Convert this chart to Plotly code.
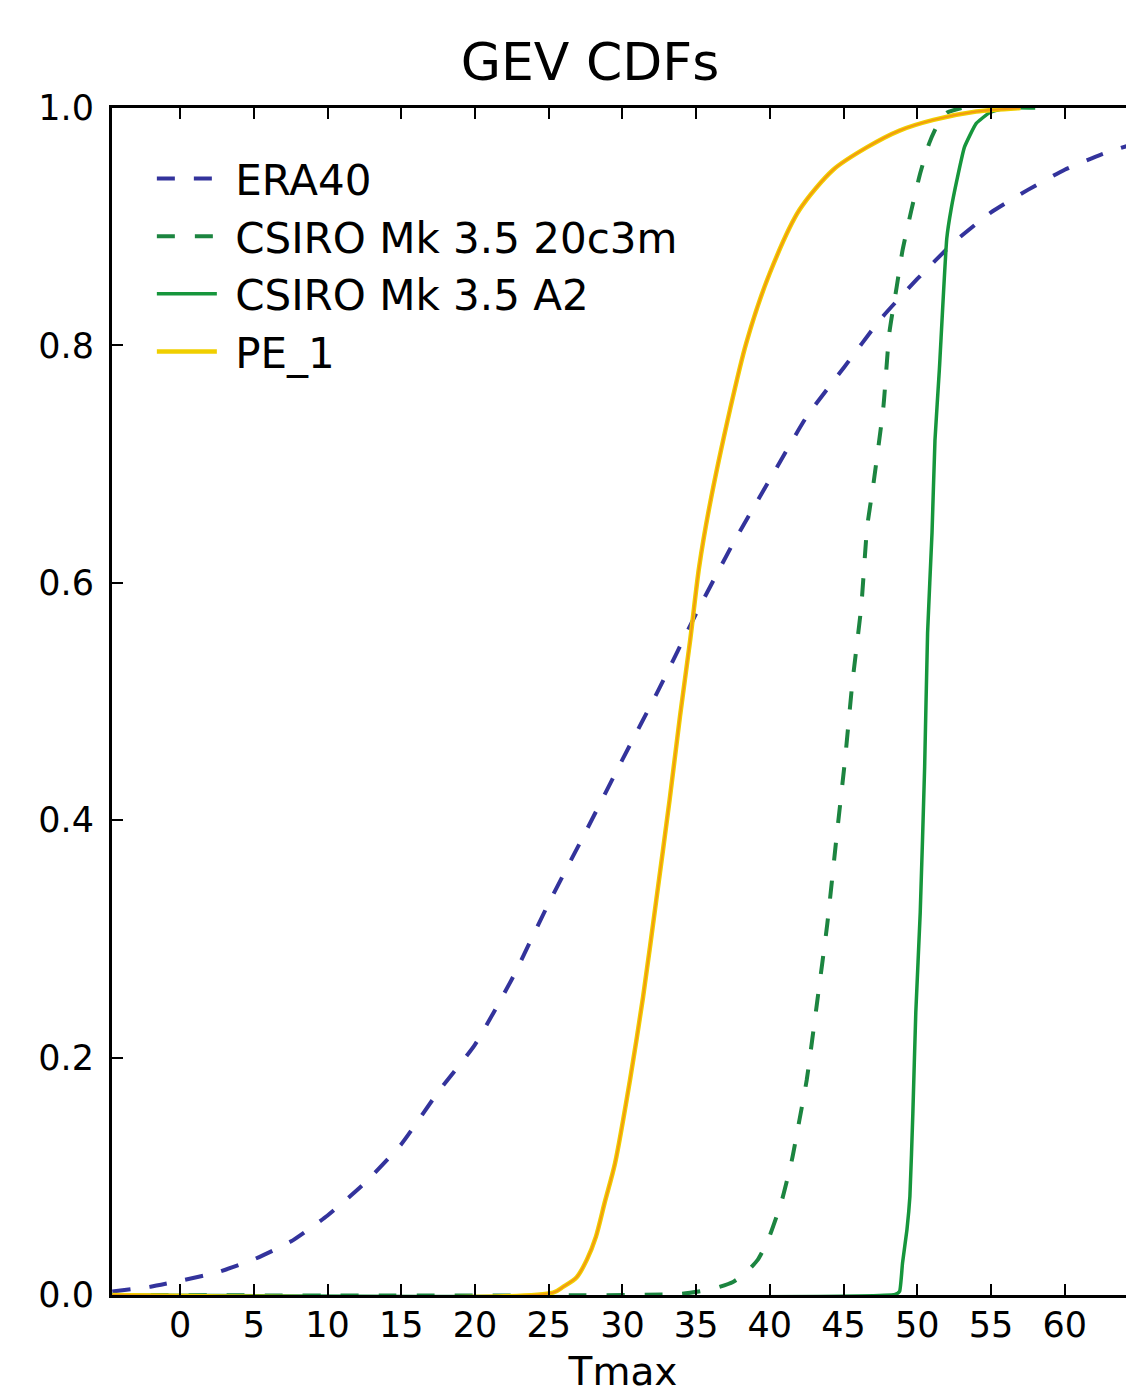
import plotly.graph_objects as go

# ---- data ----
era40_x = [-4.6, -2, 0, 2.5, 5, 7.5, 10, 12.5, 15, 17.5, 20, 22.5, 25, 27.5, 30, 32.5,
           35, 37.5, 40, 42.5, 45, 47.5, 50, 52.5, 55, 57.5, 60, 62.5, 65]
era40_y = [0.003, 0.007, 0.012, 0.019, 0.030, 0.045, 0.067, 0.094, 0.127, 0.171, 0.211,
           0.266, 0.330, 0.390, 0.451, 0.511, 0.574, 0.633, 0.687, 0.740, 0.781, 0.822,
           0.856, 0.887, 0.912, 0.931, 0.948, 0.961, 0.971]

c20_x = [-4.6, 34, 36.1, 37.5, 38.4, 39.2, 39.9, 40.8, 41.5, 42.0, 42.5, 43.2, 43.9, 44.5,
         45.1, 45.6, 46.2, 46.6, 47.0, 47.7, 48.1, 48.6, 49.0, 49.6, 50.2, 50.8, 51.3, 52.0, 53.0]
c20_y = [0.0, 0.001, 0.005, 0.011, 0.019, 0.030, 0.047, 0.079, 0.114, 0.147, 0.181, 0.246,
         0.313, 0.383, 0.451, 0.516, 0.580, 0.647, 0.681, 0.748, 0.810, 0.849, 0.880, 0.914,
         0.945, 0.970, 0.984, 0.996, 1.0]

a2_x = [-4.6, 48.5, 48.8, 49.0, 49.3, 49.5, 49.7, 49.9, 50.2, 50.5, 50.7, 51.0, 51.2, 51.5,
        52.0, 52.3, 52.7, 53.2, 54.0, 54.9, 56.0, 58.0]
a2_y = [0.0, 0.0005, 0.003, 0.027, 0.055, 0.083, 0.153, 0.238, 0.322, 0.445, 0.558, 0.642,
        0.720, 0.780, 0.890, 0.915, 0.940, 0.967, 0.987, 0.996, 1.0, 1.0]

pe1_x = [-4.6, 25.3, 26.0, 26.9, 27.6, 28.2, 28.8, 29.5, 30.5, 31.4, 32.3, 33.2, 33.9, 34.6,
         35.2, 35.9, 37.3, 38.4, 40.0, 42.0, 44.3, 46.6, 48.8, 51.1, 54.0, 57.0]
pe1_y = [0.0, 0.002, 0.007, 0.015, 0.030, 0.049, 0.078, 0.111, 0.180, 0.251, 0.333, 0.417,
         0.487, 0.552, 0.613, 0.664, 0.746, 0.802, 0.861, 0.914, 0.948, 0.967, 0.981, 0.990,
         0.997, 1.0]

series_names = ["ERA40", "CSIRO Mk 3.5 20c3m", "CSIRO Mk 3.5 A2", "PE_1"]

x_ticks = [0, 5, 10, 15, 20, 25, 30, 35, 40, 45, 50, 55, 60]
y_ticks = [0.0, 0.2, 0.4, 0.6, 0.8, 1.0]

FONT = "DejaVu Sans"
PAD = "\u00a0"  # small gap between legend sample and label

fig = go.Figure()
fig.add_trace(go.Scatter(x=era40_x, y=era40_y, mode="lines", name=PAD + series_names[0],
                         line=dict(color="#33339c", width=4, dash="18px,19px",
                                   shape="spline", smoothing=0.5)))
fig.add_trace(go.Scatter(x=c20_x, y=c20_y, mode="lines", name=PAD + series_names[1],
                         line=dict(color="#1c8540", width=4, dash="18px,20px",
                                   shape="spline", smoothing=0.5)))
fig.add_trace(go.Scatter(x=a2_x, y=a2_y, mode="lines", name=PAD + series_names[2],
                         line=dict(color="#16963c", width=3.5, shape="spline", smoothing=0.4)))
fig.add_trace(go.Scatter(x=pe1_x, y=pe1_y, mode="lines", name=PAD + series_names[3],
                         line=dict(color="#f0cf00", width=4.5, shape="spline", smoothing=0.8)))
fig.add_trace(go.Scatter(x=pe1_x, y=pe1_y, mode="lines", showlegend=False,
                         hoverinfo="skip",
                         line=dict(color="#f39a10", width=2, shape="spline", smoothing=0.8)))

fig.update_layout(
    width=1126, height=1386,
    margin=dict(l=104, r=0, t=100, b=99),
    paper_bgcolor="white", plot_bgcolor="white",
    font=dict(family=FONT, color="black", size=35),
    title=dict(text="GEV CDFs", font=dict(family=FONT, size=52, color="black"),
               x=582 / 1126, xref="container", xanchor="center",
               y=1 - 54 / 1386, yref="container", yanchor="middle"),
    legend=dict(x=0.039, y=0.969, xanchor="left", yanchor="top",
                font=dict(family=FONT, size=42, color="black"),
                bgcolor="rgba(255,255,255,0)", borderwidth=0, itemwidth=60),
    showlegend=True,
)
fig.update_xaxes(range=[-4.62, 64.7], tickmode="array", tickvals=x_ticks,
                 ticks="inside", ticklen=11, tickwidth=2, tickcolor="black",
                 showline=True, linecolor="black", linewidth=3, mirror="ticks",
                 showgrid=False, zeroline=False, ticklabelstandoff=-3, automargin=False,
                 tickfont=dict(family=FONT, size=35, color="black"),
                 title=dict(text="Tmax", font=dict(family=FONT, size=39, color="black"),
                            standoff=39))
fig.update_yaxes(range=[0, 1], tickmode="array", tickvals=y_ticks, tickformat=".1f",
                 ticks="inside", ticklen=11, tickwidth=2, tickcolor="black",
                 showline=True, linecolor="black", linewidth=3, automargin=False,
                 showgrid=False, zeroline=False, ticklabelstandoff=8,
                 tickfont=dict(family=FONT, size=35, color="black"))

fig.write_html("out.html")
